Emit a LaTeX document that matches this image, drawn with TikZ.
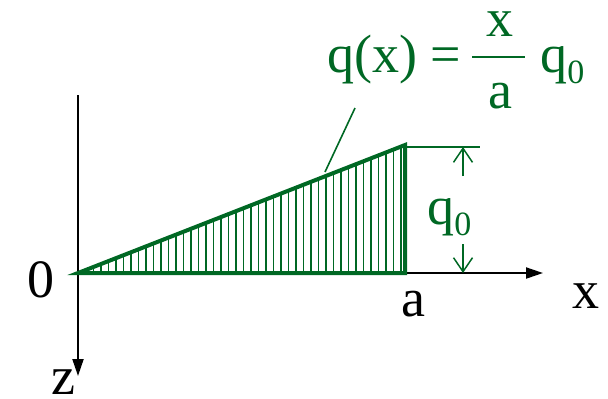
\documentclass[tikz,border=0pt]{standalone}
\usepackage{fontspec}
\setmainfont{Liberation Serif}
\usetikzlibrary{arrows.meta}
\definecolor{dg}{RGB}{0,104,36}
\newcommand{\qsub}{q\raisebox{-5.5pt}{\fontsize{17}{20}\selectfont 0}}
\begin{document}
\begin{tikzpicture}[x=0.5pt,y=-0.5pt,
  lbl/.style={inner sep=0pt,anchor=base west,font=\fontsize{27}{32}\selectfont},
  axis/.style={line width=1pt,-{Triangle[length=8.5pt,width=5.5pt]}},
  dim/.style={dg,line width=0.75pt,-{Straight Barb[length=7pt,width=9.5pt]}}]
\useasboundingbox (0,0) rectangle (608,398);
% coordinates
\coordinate (O) at (78,273);
\coordinate (A) at (405,273);
\coordinate (T) at (405,145);
\coordinate (Tx) at (405,147);
\coordinate (ztop) at (78,95);
\coordinate (zend) at (78,376);
\coordinate (xend) at (543,273);
\coordinate (ext) at (480,147);
\coordinate (up1) at (463,176);
\coordinate (up2) at (463,147);
\coordinate (dn1) at (463,244);
\coordinate (dn2) at (463,273);
\coordinate (L1) at (325,172);
\coordinate (L2) at (355,108);
\coordinate (b1) at (472,57);
\coordinate (b2) at (525,57);
% axes
\draw[axis] (ztop) -- (zend);
\draw[axis] (O) -- (xend);
% hatching
\begin{scope}
\clip (O) -- (T) -- (A) -- cycle;
\foreach \i in {0,...,44} {
  \draw[dg,line width=0.75pt] ({86+7.5*\i},273) -- ++(0,-140);
}
\end{scope}
\draw[dg,line width=2pt,line join=miter] (O) -- (T) -- (A) -- cycle;
% dimension
\draw[dg,line width=1pt] (Tx) -- (ext);
\draw[dim] (up1) -- (up2);
\draw[dim] (dn1) -- (dn2);
\draw[dg,line width=0.8pt] (L1) -- (L2);
% labels
\node[lbl] (l0) at (27,297) {0};
\node[lbl] (la) at (401,316) {a};
\node[lbl] (lx) at (572,308) {x};
\node[lbl] (lz) at (51,394) {z};
\node[lbl,text=dg] (lq) at (427,224) {\qsub};
% formula
\node[lbl,text=dg] (f1) at (327,72) {q(x) =};
\draw[dg,line width=1pt] (b1) -- (b2);
\node[lbl,text=dg,anchor=base] (fn) at (500,36) {x};
\node[lbl,text=dg,anchor=base] (fd) at (500,108) {a};
\node[lbl,text=dg] (f2) at (540,72) {\qsub};
\end{tikzpicture}
\end{document}
